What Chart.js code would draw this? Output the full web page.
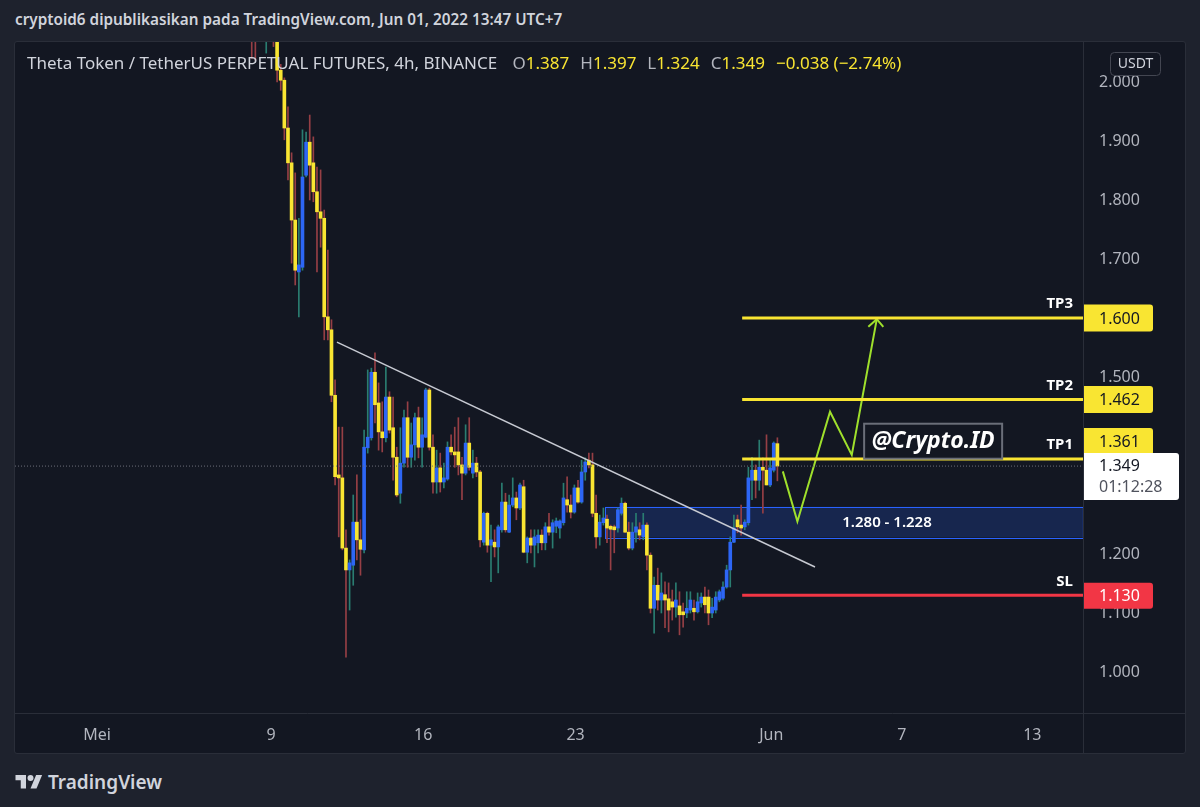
<!DOCTYPE html>
<html>
<head>
<meta charset="utf-8">
<script src="https://cdn.jsdelivr.net/npm/chart.js@4.4.0/dist/chart.umd.min.js"></script>
<style>
  html, body { margin: 0; padding: 0; width: 1200px; height: 807px; overflow: hidden; background: #1e222d; font-family: "Noto Sans", sans-serif; }
  #header { position: absolute; left: 15px; top: 9px; color: #d1d4dc; font-size: 15.3px; font-weight: 600; white-space: nowrap; }
  #frame { position: absolute; left: 14px; top: 41px; width: 1170px; height: 711px; border: 1px solid #2a2e39; border-radius: 3px; background: #131722; }
  #chart { position: absolute; left: 15px; top: 42px; }
  #legend { position: absolute; left: 27px; top: 51px; font-size: 17px; color: #d1d4dc; white-space: nowrap; z-index: 2; }
  #legend .k { color: #b2b5be; margin-left: 11px; }
  #legend .v { color: #f9e532; }
  #footer { position: absolute; left: 15px; top: 769px; display: flex; align-items: center; color: #d1d4dc; font-size: 19px; font-weight: 600; }
  #footer svg { margin-right: 5px; }
</style>
</head>
<body>
<div id="header">cryptoid6 dipublikasikan pada TradingView.com, Jun 01, 2022 13:47 UTC+7</div>
<div id="frame"></div>
<canvas id="chart" width="1170" height="711"></canvas>
<div id="legend"></div>
<div id="footer">
  <svg width="28" height="21" viewBox="0 0 36 28"><path d="M14 22H7V11H0V4h14v18z" fill="#d1d4dc"/><circle cx="20" cy="8" r="4" fill="#d1d4dc"/><path d="M28 22h-8l7.5-18h8L28 22z" fill="#d1d4dc"/></svg>
  TradingView
</div>
<script>
// time axis in days since 1 May (local time)
const xTickDays = [0, 8, 15, 22, 31, 37, 43];
const xTickLabels = ['Mei', '9', '16', '23', 'Jun', '7', '13'];
const yTicks = [1.0, 1.1, 1.2, 1.3, 1.4, 1.5, 1.6, 1.7, 1.8, 1.9, 2.0];

// 4h candles, first one on 8 May
const firstCandleDay = 7.113;
const candleStep = 1 / 6;
const candleOpen = [2.20, 2.12, 2.08, 2.21, 2.10, 2.18, 2.12, 2.08, 2.02, 2.003,
  1.922, 1.863, 1.766, 1.678, 1.686, 1.842, 1.898, 1.863, 1.814, 1.780,
  1.769, 1.602, 1.580, 1.469, 1.334, 1.329, 1.210, 1.173, 1.181, 1.254,
  1.224, 1.207, 1.380, 1.397, 1.508, 1.456, 1.407, 1.397, 1.466, 1.414,
  1.364, 1.303, 1.354, 1.431, 1.364, 1.385, 1.431, 1.381, 1.398, 1.478,
  1.381, 1.322, 1.346, 1.322, 1.327, 1.381, 1.373, 1.373, 1.351, 1.337,
  1.388, 1.337, 1.354, 1.339, 1.220, 1.269, 1.215, 1.220, 1.212, 1.241,
  1.288, 1.237, 1.283, 1.295, 1.278, 1.314, 1.203, 1.227, 1.215, 1.219,
  1.232, 1.219, 1.246, 1.237, 1.247, 1.244, 1.253, 1.292, 1.283, 1.271,
  1.312, 1.288, 1.339, 1.359, 1.351, 1.269, 1.229, 1.253, 1.259, 1.247,
  1.246, 1.244, 1.269, 1.286, 1.237, 1.210, 1.237, 1.241, 1.229, 1.249,
  1.198, 1.108, 1.147, 1.122, 1.131, 1.124, 1.119, 1.110, 1.112, 1.102,
  1.100, 1.105, 1.108, 1.102, 1.117, 1.127, 1.127, 1.100, 1.105, 1.122,
  1.125, 1.144, 1.173, 1.220, 1.258, 1.249, 1.246, 1.253, 1.325, 1.342,
  1.325, 1.347, 1.342, 1.317, 1.342, 1.387];
const candleHigh = [2.22, 2.15, 2.18, 2.24, 2.20, 2.20, 2.14, 2.10, 2.03, 2.007,
  1.958, 1.880, 1.846, 1.769, 1.919, 1.915, 1.944, 1.907, 1.856, 1.851,
  1.783, 1.715, 1.597, 1.495, 1.415, 1.415, 1.241, 1.190, 1.300, 1.334,
  1.258, 1.410, 1.512, 1.515, 1.541, 1.490, 1.458, 1.517, 1.475, 1.466,
  1.381, 1.414, 1.444, 1.458, 1.422, 1.439, 1.449, 1.431, 1.481, 1.481,
  1.402, 1.376, 1.371, 1.354, 1.390, 1.402, 1.415, 1.431, 1.364, 1.419,
  1.431, 1.376, 1.364, 1.342, 1.271, 1.271, 1.249, 1.241, 1.249, 1.320,
  1.303, 1.300, 1.329, 1.305, 1.320, 1.325, 1.229, 1.241, 1.241, 1.241,
  1.241, 1.253, 1.269, 1.258, 1.261, 1.258, 1.320, 1.331, 1.300, 1.317,
  1.325, 1.359, 1.363, 1.371, 1.371, 1.300, 1.266, 1.278, 1.266, 1.249,
  1.249, 1.278, 1.295, 1.288, 1.254, 1.253, 1.269, 1.253, 1.269, 1.253,
  1.202, 1.161, 1.176, 1.168, 1.153, 1.151, 1.139, 1.151, 1.136, 1.117,
  1.136, 1.136, 1.122, 1.134, 1.134, 1.144, 1.139, 1.125, 1.136, 1.139,
  1.153, 1.181, 1.229, 1.266, 1.266, 1.283, 1.258, 1.347, 1.364, 1.351,
  1.393, 1.363, 1.402, 1.359, 1.390, 1.397];
const candleLow = [2.040, 2.037, 2.07, 2.09, 2.049, 2.09, 2.06, 2.00, 1.986, 1.902,
  1.834, 1.693, 1.656, 1.602, 1.681, 1.839, 1.800, 1.797, 1.678, 1.720,
  1.563, 1.563, 1.458, 1.317, 1.229, 1.207, 1.025, 1.105, 1.147, 1.190,
  1.164, 1.202, 1.371, 1.393, 1.422, 1.376, 1.373, 1.390, 1.405, 1.325,
  1.297, 1.286, 1.347, 1.347, 1.347, 1.359, 1.363, 1.347, 1.397, 1.376,
  1.303, 1.303, 1.305, 1.312, 1.325, 1.368, 1.347, 1.334, 1.292, 1.334,
  1.342, 1.329, 1.331, 1.212, 1.215, 1.203, 1.153, 1.195, 1.168, 1.237,
  1.237, 1.236, 1.280, 1.258, 1.275, 1.202, 1.185, 1.202, 1.178, 1.202,
  1.207, 1.207, 1.232, 1.210, 1.236, 1.227, 1.249, 1.271, 1.261, 1.269,
  1.286, 1.286, 1.325, 1.346, 1.263, 1.210, 1.215, 1.249, 1.219, 1.173,
  1.202, 1.237, 1.266, 1.236, 1.207, 1.207, 1.220, 1.224, 1.224, 1.173,
  1.100, 1.066, 1.105, 1.100, 1.075, 1.068, 1.088, 1.093, 1.063, 1.076,
  1.092, 1.100, 1.088, 1.100, 1.110, 1.100, 1.080, 1.092, 1.100, 1.119,
  1.122, 1.142, 1.144, 1.219, 1.236, 1.232, 1.241, 1.249, 1.292, 1.295,
  1.308, 1.269, 1.317, 1.314, 1.339, 1.324];
const candleClose = [2.10, 2.08, 2.16, 2.10, 2.18, 2.12, 2.08, 2.02, 2.003, 1.922,
  1.863, 1.766, 1.681, 1.690, 1.839, 1.898, 1.859, 1.814, 1.780, 1.769,
  1.602, 1.580, 1.469, 1.331, 1.329, 1.210, 1.173, 1.185, 1.254, 1.224,
  1.208, 1.381, 1.398, 1.508, 1.453, 1.407, 1.397, 1.466, 1.410, 1.364,
  1.300, 1.354, 1.431, 1.364, 1.385, 1.431, 1.381, 1.402, 1.478, 1.381,
  1.322, 1.346, 1.322, 1.329, 1.381, 1.373, 1.368, 1.351, 1.337, 1.388,
  1.347, 1.354, 1.339, 1.224, 1.269, 1.215, 1.224, 1.212, 1.246, 1.288,
  1.241, 1.283, 1.295, 1.278, 1.317, 1.203, 1.227, 1.215, 1.229, 1.232,
  1.219, 1.246, 1.237, 1.253, 1.256, 1.256, 1.295, 1.283, 1.271, 1.312,
  1.288, 1.339, 1.356, 1.351, 1.269, 1.229, 1.254, 1.261, 1.244, 1.242,
  1.241, 1.275, 1.286, 1.237, 1.210, 1.237, 1.246, 1.232, 1.249, 1.198,
  1.108, 1.147, 1.122, 1.134, 1.122, 1.105, 1.110, 1.122, 1.097, 1.097,
  1.108, 1.122, 1.102, 1.119, 1.127, 1.114, 1.100, 1.110, 1.127, 1.136,
  1.144, 1.173, 1.220, 1.244, 1.246, 1.244, 1.254, 1.329, 1.342, 1.325,
  1.347, 1.342, 1.317, 1.346, 1.388, 1.349];

// drawings on the chart (days / prices)
const trendDays = [11.03, 33.01];
const trendPrices = [1.559, 1.178];
const pathDays = [31.53, 32.20, 33.70, 34.70, 35.85];
const pathPrices = [1.340, 1.255, 1.441, 1.368, 1.598];
const arrowDays = [35.46, 35.85, 36.15];
const arrowPrices = [1.585, 1.598, 1.585];
const levelStartDay = 29.66;
const tpNames = ['TP1', 'TP2', 'TP3'];
const tpLevels = [1.361, 1.462, 1.600];
const slLevel = 1.130;
const zoneStartDay = 23.36;
const zoneHigh = 1.280;
const zoneLow = 1.228;
const countdown = '01:12:28';

const xMin = -3.77, xMax = 45.33;
const yMin = 0.9305, yMax = 2.0678;

const YELLOW = '#f9e532';
const BLUE = '#2d66f5';
const WICK_DN = '#963f45';
const WICK_UP = '#2a7d71';

const n = candleOpen.length;
const last = n - 1;
const lastClose = candleClose[last];

// legend line
(function() {
  const o = candleOpen[last], c = candleClose[last];
  const ch = c - o;
  const fmt = v => (v < 0 ? '\u2212' : '') + Math.abs(v).toFixed(3);
  document.getElementById('legend').innerHTML =
    'Theta Token / TetherUS PERPETUAL FUTURES, 4h, BINANCE ' +
    '<span class="k">O</span><span class="v">' + o.toFixed(3) + '</span>' +
    '<span class="k">H</span><span class="v">' + candleHigh[last].toFixed(3) + '</span>' +
    '<span class="k">L</span><span class="v">' + candleLow[last].toFixed(3) + '</span>' +
    '<span class="k">C</span><span class="v">' + c.toFixed(3) + '</span>' +
    '<span class="v" style="margin-left:11px">' + fmt(ch) + ' (' + (ch < 0 ? '\u2212' : '') + Math.abs(ch / o * 100).toFixed(2) + '%)</span>';
})();

const wicks = [], bodies = [], wickColors = [], bodyColors = [];
for (let i = 0; i < n; i++) {
  const d = firstCandleDay + i * candleStep;
  const down = candleClose[i] < candleOpen[i];
  wicks.push({x: d, y: [candleLow[i], candleHigh[i]]});
  bodies.push({x: d, y: [candleOpen[i], candleClose[i]]});
  wickColors.push(down ? WICK_DN : WICK_UP);
  bodyColors.push(down ? YELLOW : BLUE);
}

function pts(xs, ys) { return xs.map((v, i) => ({x: v, y: ys[i]})); }

function roundRect(ctx, x, y, w, h, r) {
  ctx.beginPath();
  ctx.moveTo(x, y);
  ctx.lineTo(x + w - r, y);
  ctx.quadraticCurveTo(x + w, y, x + w, y + r);
  ctx.lineTo(x + w, y + h - r);
  ctx.quadraticCurveTo(x + w, y + h, x + w - r, y + h);
  ctx.lineTo(x, y + h);
  ctx.closePath();
}

const drawings = {
  id: 'drawings',
  beforeDatasetsDraw(chart) {
    const {ctx, chartArea: a, scales: {x, y}} = chart;
    ctx.save();
    ctx.beginPath(); ctx.rect(a.left, a.top, a.width, a.height); ctx.clip();
    const x0 = x.getPixelForValue(zoneStartDay);
    const y0 = y.getPixelForValue(zoneHigh), y1 = y.getPixelForValue(zoneLow);
    ctx.fillStyle = 'rgba(41, 98, 255, 0.2)';
    ctx.fillRect(x0, y0, a.right - x0, y1 - y0);
    ctx.strokeStyle = '#2962ff';
    ctx.lineWidth = 1;
    ctx.strokeRect(Math.round(x0) + 0.5, Math.round(y0) + 0.5, a.right - x0, Math.round(y1 - y0));
    ctx.restore();
  },
  afterDraw(chart) {
    const {ctx, chartArea: a, scales: {x, y}} = chart;
    const W = chart.width, H = chart.height;
    ctx.save();
    // pane separators
    ctx.strokeStyle = '#2a2e39';
    ctx.lineWidth = 1;
    ctx.beginPath();
    ctx.moveTo(Math.round(a.right) + 0.5, 0); ctx.lineTo(Math.round(a.right) + 0.5, H);
    ctx.moveTo(0, Math.round(a.bottom) + 0.5); ctx.lineTo(W, Math.round(a.bottom) + 0.5);
    ctx.stroke();

    // level names
    ctx.font = 'bold 15px "Noto Sans"';
    ctx.fillStyle = '#ffffff';
    ctx.textAlign = 'right';
    ctx.textBaseline = 'middle';
    tpLevels.forEach((v, i) => ctx.fillText(tpNames[i], a.right - 10, y.getPixelForValue(v) - 14));
    ctx.fillText('SL', a.right - 10, y.getPixelForValue(slLevel) - 14);

    // zone text
    ctx.font = '600 15px "Noto Sans"';
    ctx.textAlign = 'center';
    ctx.fillText(zoneHigh.toFixed(3) + ' - ' + zoneLow.toFixed(3), x.getPixelForValue(36.32),
      (y.getPixelForValue(zoneHigh) + y.getPixelForValue(zoneLow)) / 2 + 1);

    // brand box
    const bx = x.getPixelForValue(38.44), by = y.getPixelForValue(1.392);
    ctx.fillStyle = '#131722';
    ctx.fillRect(bx - 69, by - 17, 138, 35);
    ctx.strokeStyle = '#6a6e79';
    ctx.lineWidth = 2;
    ctx.strokeRect(bx - 69, by - 17, 138, 35);
    ctx.fillStyle = '#ffffff';
    ctx.font = 'italic bold 23px "Noto Sans"';
    ctx.fillText('@Crypto.ID', bx, by + 1);

    // price axis tags
    const tag = (top, w, h, bg) => { ctx.fillStyle = bg; roundRect(ctx, a.right + 1, top, w, h, 3); ctx.fill(); };
    ctx.font = '16px "Noto Sans"';
    ctx.textAlign = 'left';
    const tx = a.right + 16;
    const curTop = y.getPixelForValue(lastClose) - 13;
    [tpLevels[2], tpLevels[1]].forEach(v => {
      const c = y.getPixelForValue(v);
      tag(c - 13.5, 69, 27, YELLOW);
      ctx.fillStyle = '#131722';
      ctx.fillText(v.toFixed(3), tx, c + 1);
    });
    // TP1 tag pushed up above the last price tag
    const t1 = Math.min(y.getPixelForValue(tpLevels[0]) - 13.5, curTop + 2 - 27);
    tag(t1, 69, 27, YELLOW);
    ctx.fillStyle = '#131722';
    ctx.fillText(tpLevels[0].toFixed(3), tx, t1 + 14.5);
    // last price + countdown
    tag(curTop, 95, 47, '#ffffff');
    ctx.fillStyle = '#131722';
    ctx.fillText(lastClose.toFixed(3), tx, curTop + 13);
    ctx.fillStyle = '#50535e';
    ctx.fillText(countdown, tx, curTop + 34);
    // stop loss
    const sc = y.getPixelForValue(slLevel);
    tag(sc - 12.5, 69, 26, '#f23645');
    ctx.fillStyle = '#ffffff';
    ctx.fillText(slLevel.toFixed(3), tx, sc + 1);

    // currency box
    ctx.strokeStyle = '#434651';
    ctx.lineWidth = 1;
    ctx.beginPath();
    ctx.roundRect(a.right + 27.5, 10.5, 50, 23, 4);
    ctx.fillStyle = '#131722';
    ctx.fill();
    ctx.stroke();
    ctx.fillStyle = '#d1d4dc';
    ctx.font = '14px "Noto Sans"';
    ctx.textAlign = 'center';
    ctx.fillText('USDT', a.right + 52.5, 22.5);
    ctx.restore();
  }
};

const lineBase = {type: 'line', pointRadius: 0, fill: false, order: 0, tension: 0};

new Chart(document.getElementById('chart').getContext('2d'), {
  type: 'bar',
  data: {
    datasets: [
      Object.assign({}, lineBase, {data: pts(trendDays, trendPrices), borderColor: '#c7cad2', borderWidth: 1.5}),
      Object.assign({}, lineBase, {data: pts([xMin, xMax], [lastClose, lastClose]), borderColor: '#6b6e79', borderWidth: 1, borderDash: [1, 2]}),
      Object.assign({}, lineBase, {data: pts([levelStartDay, xMax], [tpLevels[0], tpLevels[0]]), borderColor: YELLOW, borderWidth: 3}),
      Object.assign({}, lineBase, {data: pts([levelStartDay, xMax], [tpLevels[1], tpLevels[1]]), borderColor: YELLOW, borderWidth: 3}),
      Object.assign({}, lineBase, {data: pts([levelStartDay, xMax], [tpLevels[2], tpLevels[2]]), borderColor: YELLOW, borderWidth: 3}),
      Object.assign({}, lineBase, {data: pts([levelStartDay, xMax], [slLevel, slLevel]), borderColor: '#f23645', borderWidth: 3}),
      Object.assign({}, lineBase, {data: pts(pathDays, pathPrices), borderColor: '#9fe02c', borderWidth: 2}),
      Object.assign({}, lineBase, {data: pts(arrowDays, arrowPrices), borderColor: '#9fe02c', borderWidth: 2}),
      {
        type: 'bar', data: bodies, backgroundColor: bodyColors, barThickness: 3,
        minBarLength: 1, grouped: false, borderWidth: 0, order: 1
      },
      {
        type: 'bar', data: wicks, backgroundColor: wickColors, barThickness: 1,
        grouped: false, borderWidth: 0, order: 2
      }
    ]
  },
  options: {
    responsive: false,
    animation: false,
    devicePixelRatio: 1,
    layout: {padding: 0},
    plugins: {legend: {display: false}, tooltip: {enabled: false}},
    scales: {
      x: {
        type: 'linear', position: 'bottom', min: xMin, max: xMax, offset: false,
        grid: {display: false, drawTicks: false},
        border: {display: false},
        afterFit: s => { s.height = 40; s.paddingLeft = 0; s.paddingRight = 0; },
        afterBuildTicks: s => { s.ticks = xTickDays.map(v => ({value: v})); },
        ticks: {
          color: '#b2b5be', font: {family: 'Noto Sans', size: 16}, padding: 13,
          autoSkip: false, maxRotation: 0,
          callback: (v, i) => xTickLabels[i]
        }
      },
      y: {
        type: 'linear', position: 'right', min: yMin, max: yMax,
        grid: {display: false, drawTicks: false},
        border: {display: false},
        afterFit: s => { s.width = 102; s.paddingTop = 0; s.paddingBottom = 0; },
        afterBuildTicks: s => { s.ticks = yTicks.map(v => ({value: v})); },
        ticks: {
          color: '#b2b5be', font: {family: 'Noto Sans', size: 16}, padding: 16,
          callback: v => v.toFixed(3)
        }
      }
    }
  },
  plugins: [drawings]
});
</script>
</body>
</html>
